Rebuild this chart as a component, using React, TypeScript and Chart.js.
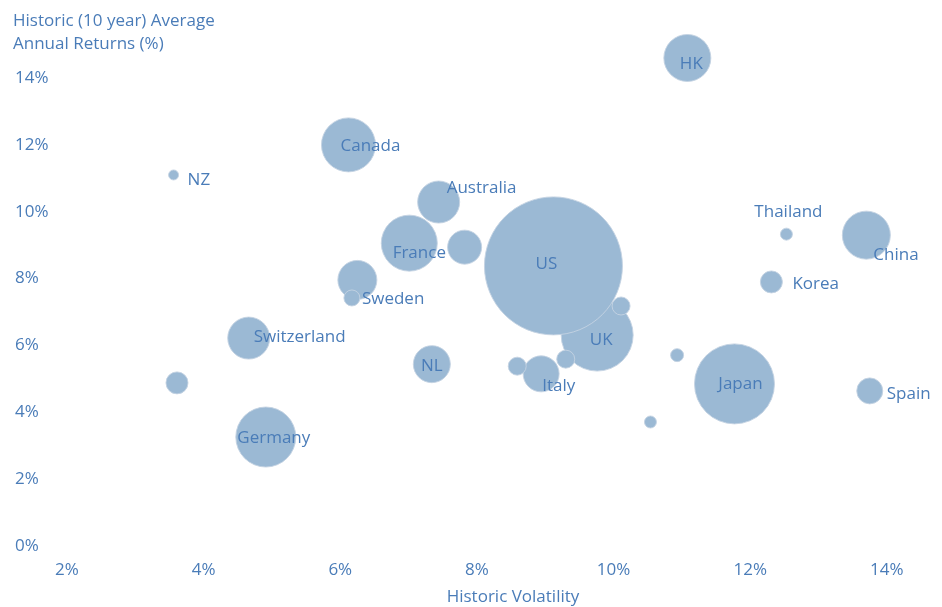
import React, { useEffect, useRef } from "react";
import { Chart, registerables } from "chart.js";

Chart.register(...registerables);

const countries = [
  "HK", "Canada", "NZ", "Australia", "France", "", "UK", "US", "", "Sweden",
  "", "", "Italy", "", "NL", "", "Japan", "", "Spain", "Korea",
  "Thailand", "China", "Switzerland", "", "Germany",
];
const volatility = [
  11.08, 6.12, 3.56, 7.44, 7.01, 7.82, 9.76, 9.12, 6.25, 6.17,
  10.11, 9.30, 8.94, 8.59, 7.34, 10.93, 11.77, 10.54, 13.75, 12.31,
  12.53, 13.70, 4.66, 3.61, 4.91,
];
const returns = [
  14.6, 12.0, 11.1, 10.29, 9.06, 8.94, 6.31, 8.38, 7.96, 7.42,
  7.18, 5.59, 5.15, 5.38, 5.44, 5.71, 4.85, 3.71, 4.64, 7.9,
  9.33, 9.3, 6.22, 4.88, 3.26,
];
const bubbleSize = [
  23.5, 27, 5, 21, 28, 17, 36, 69, 19.5, 8,
  9, 9, 18, 9, 18.5, 6.5, 40, 6, 13, 11,
  6, 24, 21, 11, 30,
];
const xTicks = [2, 4, 6, 8, 10, 12, 14];
const yTicks = [0, 2, 4, 6, 8, 10, 12, 14];
const yTitle = ["Historic (10 year) Average", "Annual Returns (%)"];
const xTitle = "Historic Volatility";

const TEXT = "#4a7cb8";
const FONT_SIZE = 17;
const FONT = `${FONT_SIZE}px 'Open Sans'`;

const labelPlacement: Record<string, { align: CanvasTextAlign; dx: number; dy: number }> = {
  HK: { align: "center", dx: 4, dy: 6 },
  Canada: { align: "center", dx: 22, dy: 1 },
  NZ: { align: "left", dx: 14, dy: 5 },
  Australia: { align: "left", dx: 8, dy: -14 },
  France: { align: "center", dx: 10, dy: 10 },
  US: { align: "center", dx: -7, dy: -2 },
  Sweden: { align: "left", dx: 10, dy: 1 },
  UK: { align: "center", dx: 4, dy: 5 },
  Italy: { align: "left", dx: 1, dy: 12 },
  NL: { align: "center", dx: 0, dy: 2 },
  Japan: { align: "center", dx: 6, dy: 0 },
  Spain: { align: "left", dx: 17, dy: 3 },
  Korea: { align: "left", dx: 21, dy: 2 },
  Thailand: { align: "center", dx: 2, dy: -22 },
  China: { align: "left", dx: 7, dy: 20 },
  Switzerland: { align: "left", dx: 5, dy: -1 },
  Germany: { align: "center", dx: 8, dy: 1 },
};

const labelsPlugin = {
  id: "bubbleLabels",
  afterDatasetsDraw(chart: any) {
    const ctx = chart.ctx as CanvasRenderingContext2D;
    const meta = chart.getDatasetMeta(0);
    ctx.save();
    ctx.font = FONT;
    ctx.fillStyle = TEXT;
    ctx.textBaseline = "middle";
    meta.data.forEach((el: any, i: number) => {
      const name = countries[i];
      if (!name) return;
      const p = labelPlacement[name] || { align: "center", dx: 0, dy: 0 };
      ctx.textAlign = p.align;
      ctx.fillText(name, el.x + p.dx, el.y + p.dy);
    });
    ctx.restore();
  },
  afterDraw(chart: any) {
    const ctx = chart.ctx as CanvasRenderingContext2D;
    ctx.save();
    ctx.font = FONT;
    ctx.fillStyle = TEXT;
    ctx.textBaseline = "middle";
    ctx.textAlign = "left";
    ctx.fillText(yTitle[0], 13, 21);
    ctx.fillText(yTitle[1], 13, 44);
    ctx.textAlign = "center";
    ctx.fillText(xTitle, 513, 597);
    ctx.restore();
  },
};

export default function App() {
  const ref = useRef<HTMLCanvasElement>(null);
  useEffect(() => {
    document.body.style.margin = "0";
    const data = countries.map((_, i) => ({ x: volatility[i], y: returns[i], r: bubbleSize[i] }));
    const chart = new Chart(ref.current!, {
      type: "bubble",
      data: {
        datasets: [
          {
            data,
            backgroundColor: "#9bb9d4",
            borderColor: "rgba(196,211,226,0.9)",
            borderWidth: 1,
            hoverRadius: 0,
            clip: false as any,
          },
        ],
      },
      options: {
        animation: false,
        responsive: false,
        maintainAspectRatio: false,
        layout: { autoPadding: false, padding: { left: 15, right: 21, top: 44.6, bottom: 0 } },
        plugins: { legend: { display: false }, tooltip: { enabled: false } },
        scales: {
          x: {
            type: "linear",
            min: 2,
            max: 14.5,
            grid: { display: false, drawTicks: false },
            border: { display: false },
            afterBuildTicks: (s: any) => {
              s.ticks = xTicks.map((v) => ({ value: v }));
            },
            afterFit: (s: any) => {
              s.height = 61;
            },
            ticks: {
              color: TEXT,
              font: { family: "'Open Sans'", size: FONT_SIZE },
              padding: 14,
              maxRotation: 0,
              callback: (v: any) => v + "%",
            },
          },
          y: {
            type: "linear",
            min: 0,
            max: 15,
            grid: { display: false, drawTicks: false },
            border: { display: false },
            afterBuildTicks: (s: any) => {
              s.ticks = yTicks.map((v) => ({ value: v }));
            },
            afterFit: (s: any) => {
              s.width = 52;
            },
            ticks: {
              color: TEXT,
              font: { family: "'Open Sans'", size: FONT_SIZE },
              crossAlign: "far",
              callback: (v: any) => v + "%",
            },
          },
        },
      },
      plugins: [labelsPlugin],
    });
    return () => chart.destroy();
  }, []);
  return (
    <div style={{ width: 942, height: 607 }}>
      <canvas ref={ref} width={942} height={607} style={{ width: 942, height: 607, display: "block" }} />
    </div>
  );
}
